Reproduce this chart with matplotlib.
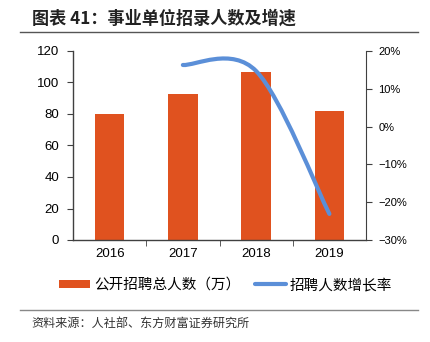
import numpy as np
import matplotlib
matplotlib.use('Agg')
import matplotlib.pyplot as plt
from matplotlib.path import Path
from matplotlib.patches import PathPatch
from matplotlib.lines import Line2D
from matplotlib.patches import Patch

plt.rcParams['font.family'] = ['Liberation Sans', 'Noto Sans CJK SC', 'DejaVu Sans']
plt.rcParams['axes.unicode_minus'] = True

# Data
years = ['2016', '2017', '2018', '2019']
recruits = [80, 93, 106.7, 82]          # 公开招聘总人数（万）
growth_years = [1, 2, 3]                # index of 2017..2019
growth = [16.3, 14.7, -23.1]            # 招聘人数增长率 (%)

bar_color = '#E0521F'
line_color = '#5B8FD8'
axis_color = '#404040'

fig = plt.figure(figsize=(4.3, 3.42), dpi=100)
ax = fig.add_axes([73 / 430, 1 - 240 / 342, (366 - 73) / 430, (240 - 51) / 342])

x = np.arange(len(years))
ax.bar(x, recruits, width=0.4, color=bar_color, zorder=2)
ax.set_xlim(-0.5, len(years) - 0.5)
ax.set_ylim(0, 120)
ax.set_yticks(range(0, 121, 20))
ax.set_xticks(x)
ax.set_xticklabels(years, fontsize=9.5)
ax.tick_params(axis='x', length=0, pad=6)
ax.set_xticks(np.arange(0.5, len(years) - 1, 1), minor=True)
ax.tick_params(axis='x', which='minor', length=4, color=axis_color, direction='out')
ax.tick_params(axis='y', length=4, color=axis_color, labelsize=9.5, pad=6)
for s in ['top', 'right']:
    ax.spines[s].set_visible(False)
for s in ['left', 'bottom']:
    ax.spines[s].set_color(axis_color)
    ax.spines[s].set_linewidth(1.0)

# growth rate on right axis, smoothed like a spreadsheet line
ax2 = ax.twinx()
ax2.set_ylim(-30, 20)
ax2.set_yticks(range(-30, 21, 10))
ax2.set_yticklabels([f'{v}%'.replace('-', '\u2212') for v in range(-30, 21, 10)])
ax2.tick_params(axis='y', length=4, color=axis_color, labelsize=8, pad=5)
for s in ['top', 'left', 'bottom']:
    ax2.spines[s].set_visible(False)
ax2.spines['right'].set_color(axis_color)

pts = np.column_stack([growth_years, growth]).astype(float)
verts = [pts[0]]
codes = [Path.MOVETO]
n = len(pts)
for i in range(n - 1):
    p0 = pts[i - 1] if i > 0 else pts[i]
    p1 = pts[i]
    p2 = pts[i + 1]
    p3 = pts[i + 2] if i + 2 < n else pts[i + 1]
    c1 = p1 + (p2 - p0) / 6
    c2 = p2 - (p3 - p1) / 6
    verts += [c1, c2, p2]
    codes += [Path.CURVE4] * 3
ax2.add_patch(PathPatch(Path(verts, codes), facecolor='none', edgecolor=line_color,
                        lw=3, capstyle='round', zorder=3))

# legend
handles = [Patch(facecolor=bar_color, edgecolor='none'),
           Line2D([], [], color=line_color, lw=3, solid_capstyle='round')]
fig.legend(handles, ['公开招聘总人数（万）', '招聘人数增长率'],
           loc='center', bbox_to_anchor=(0.525, 1 - 285 / 342), ncol=2, frameon=False,
           prop={'family': ['Noto Sans CJK SC'], 'size': 10.5},
           handlelength=2.1, handleheight=0.45, columnspacing=1.0, handletextpad=0.3)

# title and source
fig.text(32 / 430, 1 - 19 / 342, '图表 41：事业单位招录人数及增速', fontsize=12.3,
         fontweight='bold', family=['Noto Sans CJK SC'], va='center', ha='left', color='#222222')
fig.add_artist(Line2D([20 / 430, 418 / 430], [1 - 32 / 342] * 2, color='#555555', lw=1))
fig.add_artist(Line2D([20 / 430, 418 / 430], [1 - 310 / 342] * 2, color='#888888', lw=1))
fig.text(31 / 430, 1 - 323 / 342, '资料来源：人社部、东方财富证券研究所', fontsize=8.7,
         family=['Noto Sans CJK SC'], va='center', ha='left', color='#333333')

fig.savefig('out.png', dpi=100)
